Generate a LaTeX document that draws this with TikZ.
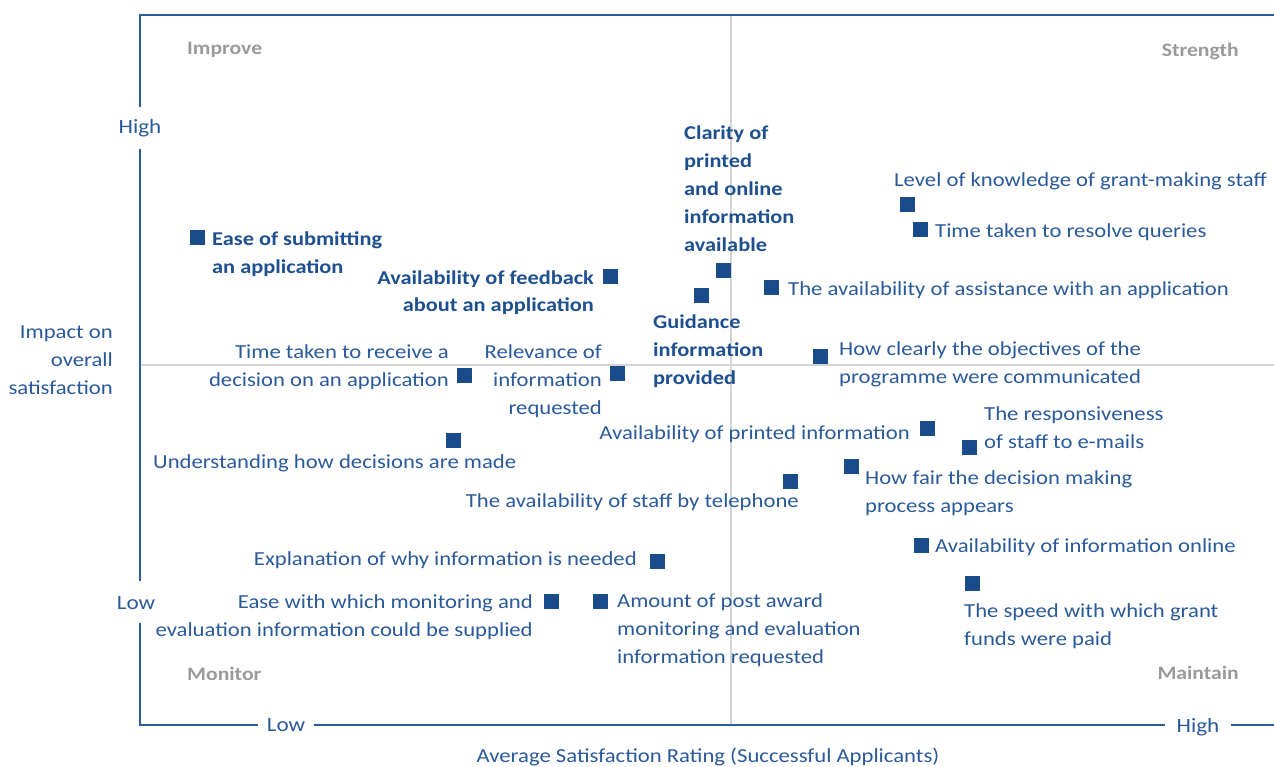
\documentclass[tikz,border=0pt]{standalone}
\usepackage{fontspec}
\setmainfont[FakeStretch=1.14]{Carlito}
\definecolor{txtblue}{HTML}{2A5A9A}
\definecolor{boldblue}{HTML}{1E4F8E}
\definecolor{sqblue}{HTML}{1A4C8B}
\definecolor{axisblue}{HTML}{2D5C9C}
\definecolor{quadgray}{HTML}{9A9A9A}
\definecolor{divgray}{HTML}{D4D4D4}
\begin{document}
\begin{tikzpicture}[x=1pt,y=-1pt,
  sq/.style={fill=sqblue, draw=none, minimum size=15pt, inner sep=0pt},
  lbl/.style={font=\fontsize{19.9}{28}\selectfont, text=txtblue, inner sep=0pt},
  blbl/.style={font=\bfseries\fontsize{19.6}{28}\selectfont, text=boldblue, inner sep=0pt},
  quad/.style={font=\bfseries\fontsize{19}{22}\selectfont, text=quadgray, inner sep=0pt},
  axlbl/.style={font=\fontsize{20.3}{22}\selectfont, text=txtblue, inner sep=0pt},
  axis/.style={draw=axisblue, line width=2.6pt},
  divider/.style={draw=divgray, line width=1.2pt}]
\useasboundingbox (0,0) rectangle (1274,767);
% corners
\coordinate (tl) at (140,15);
\coordinate (tr) at (1274,15);
\coordinate (bl) at (140,725);
\coordinate (br) at (1274,725);
\coordinate (mt) at (731,15);
\coordinate (mb) at (731,725);
\coordinate (ml) at (140,365);
\coordinate (mr) at (1274,365);
% dividers
\draw[divider] (mt) -- (mb);
\draw[divider] (ml) -- (mr);
% axis labels
\node[axlbl, minimum height=42pt] (yhigh) at (140,128) {High};
\node[axlbl, minimum height=42pt] (ylow) at (136,603) {Low};
\node[axlbl, minimum width=55pt] (xlow) at (286,725) {Low};
\node[axlbl, minimum width=65pt] (xhigh) at (1198,727) {High};
% axes
\draw[axis, line join=miter] (140,107) -- (tl) -- (tr);
\draw[axis] (140,149) -- (140,581);
\draw[axis, line join=miter] (140,623) -- (bl) -- (xlow.west |- bl);
\draw[axis] (xlow.east |- bl) -- (xhigh.west |- bl);
\draw[axis] (xhigh.east |- br) -- (br);
% axis titles
\node[lbl, anchor=base east, align=right] (ytitle) at (113,394) {Impact on\\overall\\satisfaction};
\node[lbl, anchor=base] (xtitle) at (708,762) {Average Satisfaction Rating (Successful Applicants)};
% quadrant labels
\node[quad, anchor=base west] (qimp) at (187,55) {Improve};
\node[quad, anchor=base east] (qstr) at (1239,57) {Strength};
\node[quad, anchor=base west] (qmon) at (187,680) {Monitor};
\node[quad, anchor=base east] (qmai) at (1239,679) {Maintain};
% points
\node[sq] (p1) at (197,238) {};
\node[sq] (p2) at (610,277) {};
\node[sq] (p3) at (723,271) {};
\node[sq] (p4) at (701,296) {};
\node[sq] (p5) at (907,205) {};
\node[sq] (p6) at (920,230) {};
\node[sq] (p7) at (771,288) {};
\node[sq] (p8) at (820,356) {};
\node[sq] (p9) at (464,375) {};
\node[sq] (p10) at (617,373) {};
\node[sq] (p11) at (453,440) {};
\node[sq] (p12) at (927,428) {};
\node[sq] (p13) at (969,447) {};
\node[sq] (p14) at (851,466) {};
\node[sq] (p15) at (790,481) {};
\node[sq] (p16) at (657,561) {};
\node[sq] (p17) at (921,545) {};
\node[sq] (p18) at (972,583) {};
\node[sq] (p19) at (551,601) {};
\node[sq] (p20) at (600,601) {};
% labels
\node[blbl, anchor=base west, align=left] (t1) at (212,273) {Ease of submitting\\an application};
\node[blbl, anchor=base east, align=right] (t2) at (594,312) {Availability of feedback\\about an application};
\node[blbl, anchor=base west, align=left] (t3) at (684,252) {Clarity of\\printed\\and online\\information\\available};
\node[blbl, anchor=base west, align=left] (t4) at (653,384) {Guidance\\information\\provided};
\node[lbl, anchor=base west] (t5) at (894,187) {Level of knowledge of grant-making staff};
\node[lbl, anchor=base west] (t6) at (935,238) {Time taken to resolve queries};
\node[lbl, anchor=base west] (t7) at (788,295) {The availability of assistance with an application};
\node[lbl, anchor=base west, align=left] (t8) at (839,383) {How clearly the objectives of the\\programme were communicated};
\node[lbl, anchor=base east, align=right] (t9) at (449,386) {Time taken to receive a\\decision on an application};
\node[lbl, anchor=base east, align=right] (t10) at (602,414) {Relevance of\\information\\requested};
\node[lbl, anchor=base west] (t11) at (153,468) {Understanding how decisions are made};
\node[lbl, anchor=base east] (t12) at (910,439) {Availability of printed information};
\node[lbl, anchor=base west, align=left] (t13) at (984,448) {The responsiveness\\of staff to e-mails};
\node[lbl, anchor=base west, align=left] (t14) at (865,512) {How fair the decision making\\process appears};
\node[lbl, anchor=base east] (t15) at (799,507) {The availability of staff by telephone};
\node[lbl, anchor=base east] (t16) at (637,565) {Explanation of why information is needed};
\node[lbl, anchor=base west] (t17) at (935,552) {Availability of information online};
\node[lbl, anchor=base west, align=left] (t18) at (964,645) {The speed with which grant\\funds were paid};
\node[lbl, anchor=base east, align=right] (t19) at (533,636) {Ease with which monitoring and\\evaluation information could be supplied};
\node[lbl, anchor=base west, align=left] (t20) at (617,663) {Amount of post award\\monitoring and evaluation\\information requested};
\end{tikzpicture}
\end{document}
